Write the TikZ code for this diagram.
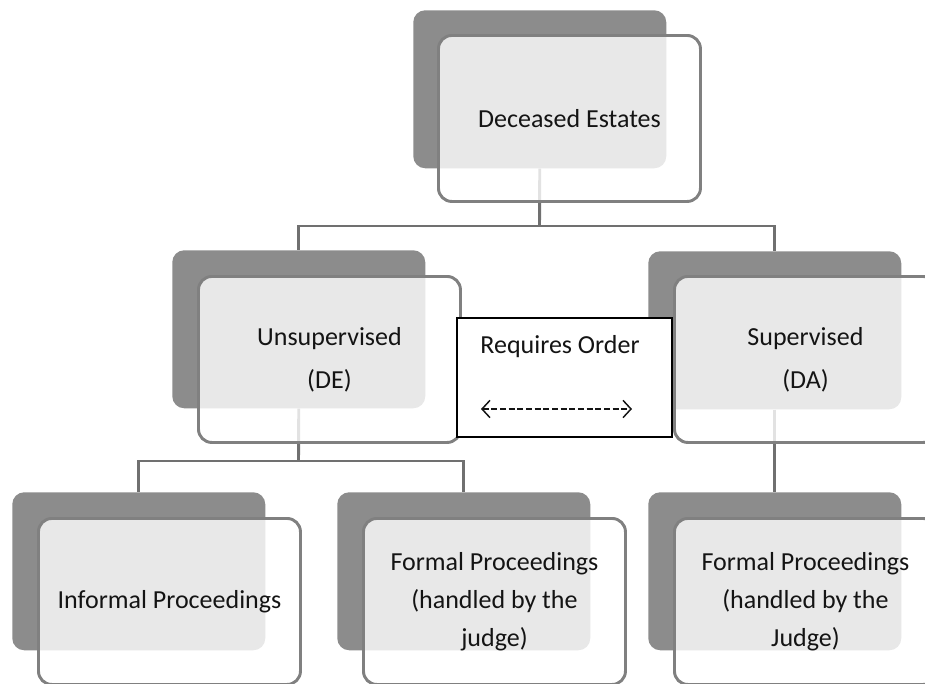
\documentclass[tikz,border=0pt]{standalone}
\usepackage{fontspec}
\setmainfont{Carlito}
\usetikzlibrary{arrows.meta}

\definecolor{cardgrey}{RGB}{140,140,140}
\definecolor{edgegrey}{RGB}{128,128,128}
\definecolor{linkgrey}{RGB}{112,112,112}
\definecolor{inkgrey}{RGB}{20,20,20}

\tikzset{
  backcard/.style={fill=cardgrey, draw=none, rounded corners=9pt,
    minimum width=189.75pt, minimum height=118.5pt, anchor=north west, inner sep=0pt},
  frontcard/.style={fill=white, fill opacity=0.8, text opacity=1, draw=edgegrey,
    draw opacity=1, line width=2.2pt, rounded corners=10pt,
    minimum width=196.5pt, minimum height=124.5pt, anchor=north west,
    align=center, text=inkgrey, font=\fontsize{19.5}{28.5}\selectfont},
  midcard/.style={frontcard, font=\fontsize{19.5}{32}\selectfont},
  orderbox/.style={fill=white, draw=black, line width=1pt,
    minimum width=161.25pt, minimum height=89.25pt, inner sep=0pt},
  link/.style={draw=linkgrey, line width=2.2pt},
}

\begin{document}
\begin{tikzpicture}[x=0.75pt,y=0.75pt,yscale=-1,xscale=1]
        \useasboundingbox (0,0) rectangle (925,683);
        \clip (0,0) rectangle (925,683);

        % Back cards
        \node[backcard] (topb) at (413,10) {};
        \node[backcard] (unsupb) at (172,250) {};
        \node[backcard] (supb) at (648,251) {};
        \node[backcard] (infb) at (12,492) {};
        \node[backcard] (formlb) at (337,492) {};
        \node[backcard] (formrb) at (648,492) {};

        % Connectors
        \coordinate (topj) at (539.5,226);
        \coordinate (unsupj) at (298.5,461);
        \draw[link] (topb.south) -- (topj);
        \draw[link] (unsupb.north) |- (topj) -| (supb.north);
        \draw[link] (unsupb.south) -- (unsupj);
        \draw[link] (infb.north) |- (unsupj) -| (formlb.north);
        \draw[link] (supb.south) -- (formrb.north);

        % Front cards
        \node[frontcard] (top) at (437,34) {Deceased Estates};
        \node[midcard] (unsup) at (197,275) {Unsupervised\\(DE)};
        \node[midcard] (sup) at (673,275) {Supervised\\(DA)};
        \node[frontcard] (inf) at (37,517) {Informal Proceedings};
        \node[frontcard] (forml) at (362,517) {Formal Proceedings\\(handled by the\\judge)};
        \node[frontcard] (formr) at (673,517) {Formal Proceedings\\(handled by the\\Judge)};

        % Order box
        \node[orderbox] (order) at (564.5,377.5) {};
        \node[text=inkgrey, font=\fontsize{19.5}{24}\selectfont] (ordtxt) at (560,347) {Requires Order};
        \coordinate (ordl) at (481,409);
        \coordinate (ordr) at (632,409);
        \draw[inkgrey, line width=1pt, dash pattern=on 4.5pt off 2pt,
          {Straight Barb[length=6pt,width=13pt,line width=1.1pt]}-{Straight Barb[length=6pt,width=13pt,line width=1.1pt]}] (ordl) -- (ordr);

\end{tikzpicture}
\end{document}
